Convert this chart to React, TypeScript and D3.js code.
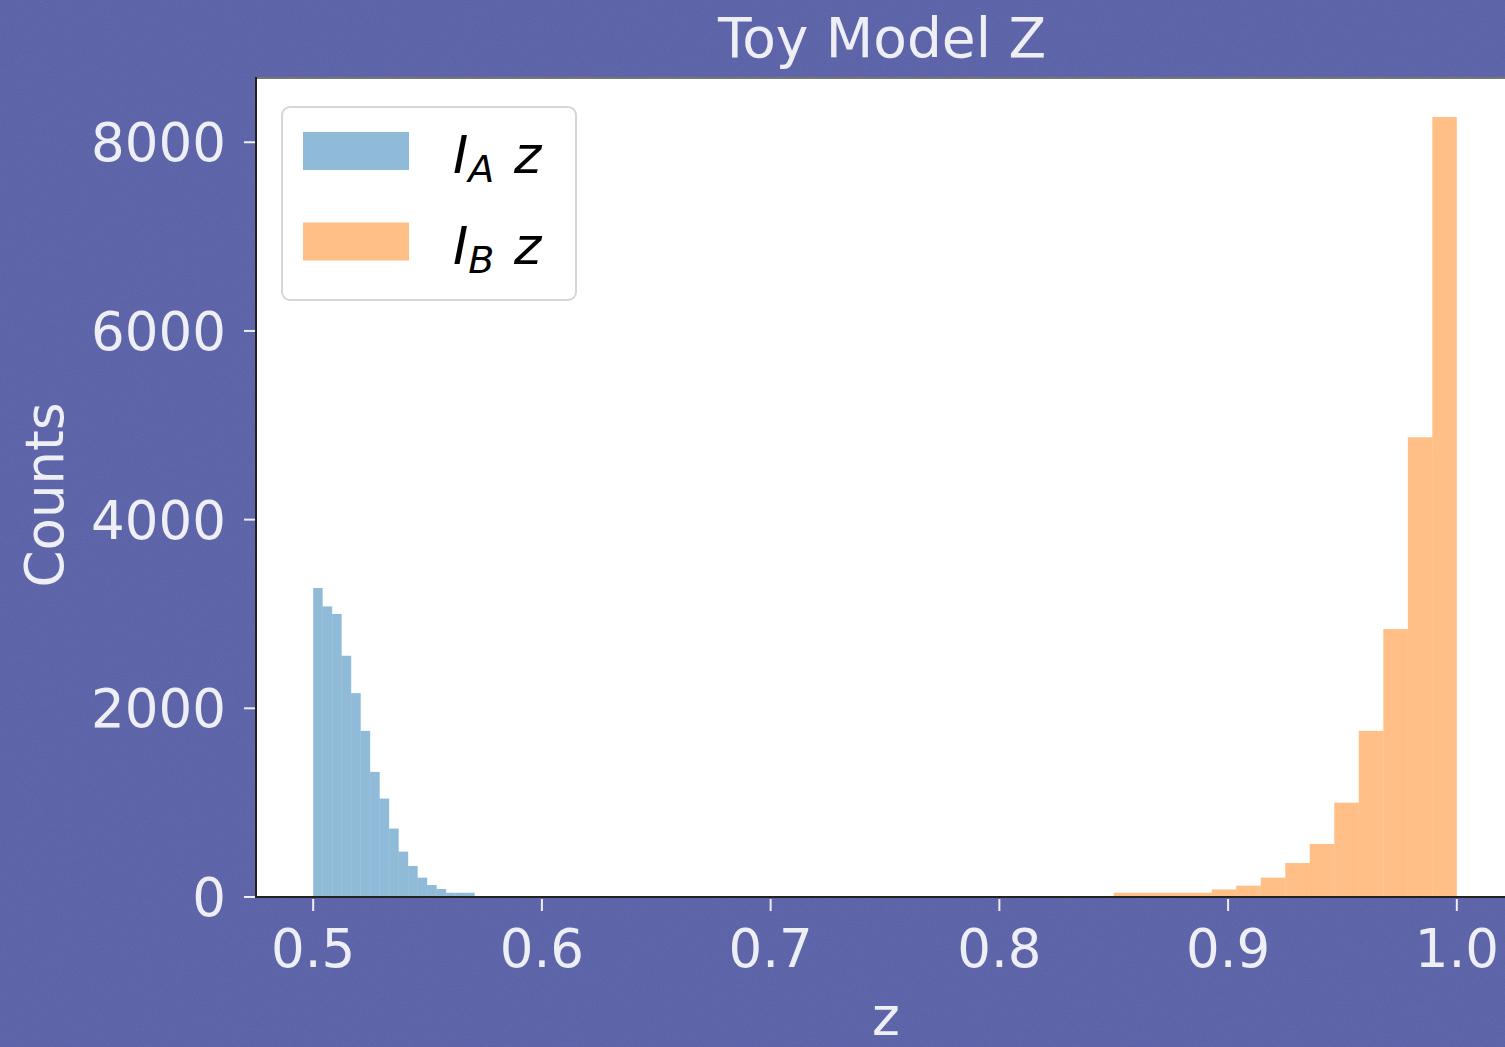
import React from "react";
import * as d3 from "d3";

const W = 1505;
const H = 1047;

// Histogram A (blue): 17 equal bins starting at z = 0.5
const blueRange: [number, number] = [0.5, 0.5706];
const blueCounts = [3275, 3080, 3000, 2557, 2161, 1761, 1326, 1043, 725, 481, 329, 205, 127, 85, 45, 45, 45];

// Histogram B (orange): 14 equal bins from z = 0.85 to 1.0
const orangeRange: [number, number] = [0.85, 1.0];
const orangeCounts = [45, 45, 45, 45, 80, 120, 205, 360, 562, 1000, 1761, 2840, 4873, 8268];

const xTicks = [0.5, 0.6, 0.7, 0.8, 0.9, 1.0];
const yTicks = [0, 2000, 4000, 6000, 8000];
const xDomain: [number, number] = [0.475, 1.025];
const yDomain: [number, number] = [0, 8681];

const title = "Toy Model Z";
const xLabel = "z";
const yLabel = "Counts";
const legendItems = [
  { sub: "A", color: "#1f77b4" },
  { sub: "B", color: "#ff7f0e" },
];

function bins(range: [number, number], counts: number[]) {
  const n = counts.length;
  const w = (range[1] - range[0]) / n;
  return counts.map((c, i) => ({ x0: range[0] + i * w, x1: range[0] + (i + 1) * w, c }));
}

export default function App() {
  const left = 256, right = 1514, top = 78, bottom = 897;
  const x = d3.scaleLinear().domain(xDomain).range([left, right]);
  const y = d3.scaleLinear().domain(yDomain).range([bottom, top]);
  const font = "DejaVu Sans, sans-serif";
  const txt = "#eeeef5";
  const fs = 53;
  const blueBins = bins(blueRange, blueCounts);
  const orangeBins = bins(orangeRange, orangeCounts);

  return (
    <svg width={W} height={H} style={{ position: "absolute", left: 0, top: 0 }}>
      <defs>
        <filter id="noise" x="0" y="0" width="100%" height="100%">
          <feTurbulence type="fractalNoise" baseFrequency="0.9" numOctaves="2" seed="3" />
          <feColorMatrix type="matrix" values="0 0 0 0 1  0 0 0 0 1  0 0 0 0 1  0 0 0 0.08 0" />
        </filter>
        <clipPath id="plot">
          <rect x={left} y={top} width={right - left} height={bottom - top} />
        </clipPath>
      </defs>
      <rect x={0} y={0} width={W} height={H} fill="#575ea5" />
      <rect x={0} y={0} width={W} height={H} filter="url(#noise)" />
      <rect x={left} y={top} width={right - left} height={bottom - top} fill="#ffffff" />
      <g clipPath="url(#plot)">
        {blueBins.map((b, i) => (
          <rect key={"a" + i} x={x(b.x0)} y={y(b.c)} width={x(b.x1) - x(b.x0)} height={y(0) - y(b.c)}
            fill="#1f77b4" fillOpacity={0.5} />
        ))}
        {orangeBins.map((b, i) => (
          <rect key={"b" + i} x={x(b.x0)} y={y(b.c)} width={x(b.x1) - x(b.x0)} height={y(0) - y(b.c)}
            fill="#ff7f0e" fillOpacity={0.5} />
        ))}
      </g>
      {/* spines */}
      <line x1={left} y1={top} x2={right} y2={top} stroke="#777" strokeWidth={2} />
      <line x1={left} y1={top - 1} x2={left} y2={bottom + 1} stroke="#222" strokeWidth={2} />
      <line x1={left - 1} y1={bottom} x2={right} y2={bottom} stroke="#222" strokeWidth={2} />
      {/* x ticks */}
      {xTicks.map((t) => (
        <g key={"xt" + t}>
          <line x1={x(t)} x2={x(t)} y1={bottom + 2} y2={bottom + 14} stroke={txt} strokeWidth={2} />
          <text x={x(t)} y={967} fill={txt} fontFamily={font} fontSize={fs} textAnchor="middle">
            {d3.format(".1f")(t)}
          </text>
        </g>
      ))}
      {/* y ticks */}
      {yTicks.map((t) => (
        <g key={"yt" + t}>
          <line x1={left - 12} x2={left - 1} y1={y(t)} y2={y(t)} stroke={txt} strokeWidth={2} />
          <text x={226} y={y(t) + 19} fill={txt} fontFamily={font} fontSize={fs} textAnchor="end">
            {t}
          </text>
        </g>
      ))}
      <text x={882} y={57} fill={txt} fontFamily={font} fontSize={55} textAnchor="middle">{title}</text>
      <text x={886} y={1035} fill={txt} fontFamily={font} fontSize={fs} textAnchor="middle">{xLabel}</text>
      <text transform={`translate(63,495) rotate(-90)`} fill={txt} fontFamily={font} fontSize={fs} textAnchor="middle">
        {yLabel}
      </text>
      {/* legend */}
      <rect x={282} y={107} width={294} height={193} rx={8} ry={8} fill="#ffffff" fillOpacity={0.85} stroke="#d6d6d6" strokeWidth={2} />
      {legendItems.map((it, i) => {
        const py = 132 + i * 90.5;
        return (
          <g key={"lg" + i}>
            <rect x={303} y={py} width={106} height={38} fill={it.color} fillOpacity={0.5} />
            <text x={453} y={py + 41} fill="#000" fontFamily={font} fontSize={52} fontStyle="italic">
              <tspan>I</tspan>
              <tspan fontSize={38} dy={9}>{it.sub}</tspan>
              <tspan dy={-9} x={514}>z</tspan>
            </text>
          </g>
        );
      })}
    </svg>
  );
}
